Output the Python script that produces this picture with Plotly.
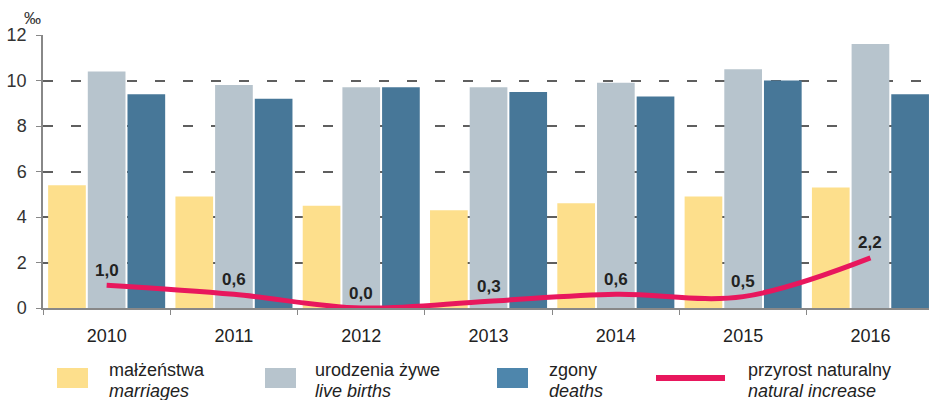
import plotly.graph_objects as go

years = ["2010", "2011", "2012", "2013", "2014", "2015", "2016"]
marriages = [5.4, 4.9, 4.5, 4.3, 4.6, 4.9, 5.3]
live_births = [10.4, 9.8, 9.7, 9.7, 9.9, 10.5, 11.6]
deaths = [9.4, 9.2, 9.7, 9.5, 9.3, 10.0, 9.4]
natural_increase = [1.0, 0.6, 0.0, 0.3, 0.6, 0.5, 2.2]
ni_labels = ["1,0", "0,6", "0,0", "0,3", "0,6", "0,5", "2,2"]
y_ticks = [0, 2, 4, 6, 8, 10, 12]

C_MAR = "#FDDF8C"
C_BIR = "#B7C4CD"
C_DEA = "#477798"
C_DEA_LEG = "#4E86AC"
C_LINE = "#E8175D"

L, T, B = 43, 35, 92
W, H = 929, 400
PW = W - L
PH = H - T - B

def px(x):
    return (x - L) / PW

def py(y):
    return (H - B - y) / PH

FONT = "Liberation Sans, Arial, sans-serif"

fig = go.Figure()
fig.add_bar(x=years, y=marriages, marker_color=C_MAR, marker_line_width=0, name="m")
fig.add_bar(x=years, y=live_births, marker_color=C_BIR, marker_line_width=0, name="b")
fig.add_bar(x=years, y=deaths, marker_color=C_DEA, marker_line_width=0, name="d")
fig.add_scatter(x=years, y=natural_increase, mode="lines",
                line=dict(color=C_LINE, width=5, shape="spline", smoothing=1.0),
                name="n", cliponaxis=False)

for i, (v, lab) in enumerate(zip(natural_increase, ni_labels)):
    fig.add_annotation(x=i, y=v, xref="x", yref="y", text="<b>" + lab + "</b>",
                       showarrow=False, yanchor="middle", yshift=15,
                       font=dict(family=FONT, size=17, color="#222222"))

fig.update_layout(
    width=W, height=H,
    margin=dict(l=L, r=0, t=T, b=B),
    paper_bgcolor="white", plot_bgcolor="white",
    barmode="group", bargap=0.065, bargroupgap=0.05,
    showlegend=False,
    font=dict(family=FONT, color="#333333"),
)
fig.update_xaxes(
    type="category", range=[-0.5, 6.46],
    showline=True, linecolor="#888888", linewidth=1.5,
    ticks="outside", tickson="boundaries", ticklen=5, tickcolor="#888888",
    showgrid=False,
    tickfont=dict(family=FONT, size=18, color="#222222"),
    ticklabelstandoff=11,
)
fig.update_yaxes(
    range=[0, 12], tickvals=y_ticks, ticktext=[str(v) for v in y_ticks],
    showline=True, linecolor="#888888", linewidth=1.5,
    ticks="outside", ticklen=5, tickcolor="#888888",
    showgrid=True, gridcolor="#5f5f5f", gridwidth=1.5, griddash="10px,18px",
    zeroline=False,
    tickfont=dict(family=FONT, size=18, color="#333333"),
    ticklabelstandoff=6,
)

fig.add_annotation(text="‰", xref="paper", yref="paper", x=px(43), y=py(18),
                   xanchor="right", yanchor="middle",
                   showarrow=False, font=dict(family=FONT, size=17, color="#333333"))

# legend
leg_font = dict(family=FONT, size=18, color="#222222")
items = [
    (57, 88, 107, "małżeństwa", "marriages", C_MAR),
    (265, 296, 313, "urodzenia żywe", "live births", C_BIR),
    (497, 528, 547, "zgony", "deaths", C_DEA_LEG),
]
for x0, x1, tx, pl, en, col in items:
    fig.add_shape(type="rect", xref="paper", yref="paper",
                  x0=px(x0), x1=px(x1), y0=py(388), y1=py(368),
                  fillcolor=col, line_width=0)
for x0, x1, tx, pl, en, col in items + [(0, 0, 746, "przyrost naturalny", "natural increase", None)]:
    fig.add_annotation(text=pl, xref="paper", yref="paper", x=px(tx), y=py(370),
                       xanchor="left", yanchor="middle", showarrow=False, font=leg_font)
    fig.add_annotation(text="<i>" + en + "</i>", xref="paper", yref="paper", x=px(tx), y=py(391),
                       xanchor="left", yanchor="middle", showarrow=False, font=leg_font)
fig.add_shape(type="line", xref="paper", yref="paper",
              x0=px(656), x1=px(725), y0=py(378), y1=py(378),
              line=dict(color=C_LINE, width=6))

fig.write_html("out.html", config={"displayModeBar": False})

with open("out.html", "r", encoding="utf-8") as f:
    html = f.read()
html = html.replace("<head>", "<head><style>html,body{margin:0;padding:0;overflow:hidden;}</style>", 1)
with open("out.html", "w", encoding="utf-8") as f:
    f.write(html)
